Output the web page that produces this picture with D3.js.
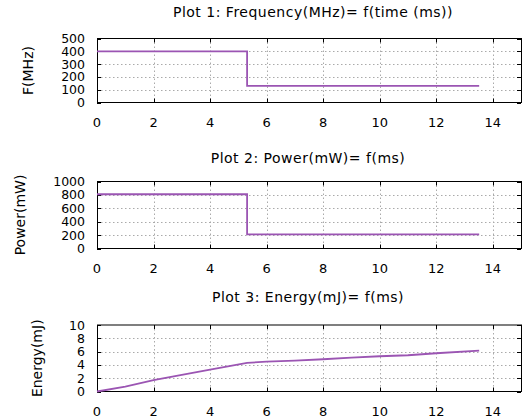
<!DOCTYPE html>
<html>
<head>
<meta charset="utf-8">
<script src="https://cdn.jsdelivr.net/npm/d3@7"></script>
<style>
  body { margin: 0; background: #fff; }
  svg text { font-family: "DejaVu Sans", sans-serif; font-size: 13px; fill: #000; }
  svg text.title { font-size: 14px; letter-spacing: 0.5px; }
  svg text.ylab { font-size: 14px; }
  svg text.ytick { font-size: 12.5px; }
  .grid line { stroke: #aaa; stroke-dasharray: 1.5,2.5; }
</style>
</head>
<body>
<div id="chart"></div>
<script>
// time axis (ms)
const xTicks = [0, 2, 4, 6, 8, 10, 12, 14];

// Plot 1: frequency step
const freqT = [0, 5.31, 5.31, 13.52];
const freqV = [400, 400, 130, 130];

// Plot 2: power step
const powT = [0, 5.31, 5.31, 13.52];
const powV = [810, 810, 210, 210];

// Plot 3: cumulative energy
const enT = [0, 1, 2, 3, 4, 5.31, 6, 7, 8, 9, 10, 11, 12, 13.52];
const enV = [0, 0.75, 1.7, 2.5, 3.3, 4.3, 4.5, 4.65, 4.85, 5.1, 5.3, 5.45, 5.75, 6.15];

const svg = d3.select("#chart").append("svg")
    .attr("width", 531).attr("height", 418);

const left = 97, right = 521;
const x = d3.scaleLinear().domain([0, 15]).range([left, right]);

const plots = [
    { title: "Plot 1: Frequency(MHz)= f(time (ms))", ylabel: "F(MHz)", top: 38.5, bottom: 102.5,
      ymax: 500, yTicks: [0, 100, 200, 300, 400, 500], t: freqT, v: freqV,
      titleX: 313, titleY: 17, labelX: 28 },
    { title: "Plot 2: Power(mW)= f(ms)", ylabel: "Power(mW)", top: 181.5, bottom: 248.5,
      ymax: 1000, yTicks: [0, 200, 400, 600, 800, 1000], t: powT, v: powV,
      titleX: 308, titleY: 163, labelX: 20 },
    { title: "Plot 3: Energy(mJ)= f(ms)", ylabel: "Energy(mJ)", top: 325, bottom: 391.5,
      ymax: 10, yTicks: [0, 2, 4, 6, 8, 10], t: enT, v: enV,
      titleX: 308, titleY: 302, labelX: 37 }
];

plots.forEach(function(p) {
    const y = d3.scaleLinear().domain([0, p.ymax]).range([p.bottom, p.top]);
    const g = svg.append("g");

    // grid
    const grid = g.append("g").attr("class", "grid");
    grid.selectAll(".gx").data(xTicks.slice(1)).enter().append("line")
        .attr("x1", d => Math.round(x(d)) + 0.5).attr("x2", d => Math.round(x(d)) + 0.5)
        .attr("y1", p.top).attr("y2", p.bottom);
    grid.selectAll(".gy").data(p.yTicks.slice(1, -1)).enter().append("line")
        .attr("x1", left).attr("x2", right)
        .attr("y1", d => Math.round(y(d)) + 0.5).attr("y2", d => Math.round(y(d)) + 0.5);

    // inward ticks, mirrored
    const ticks = g.append("g").attr("stroke", "#000").attr("stroke-width", 1);
    xTicks.forEach(function(d) {
        const px = Math.round(x(d)) + 0.5;
        ticks.append("line").attr("x1", px).attr("x2", px).attr("y1", p.bottom).attr("y2", p.bottom - 4);
        ticks.append("line").attr("x1", px).attr("x2", px).attr("y1", p.top).attr("y2", p.top + 4);
    });
    p.yTicks.forEach(function(d) {
        const py = Math.round(y(d)) + 0.5;
        ticks.append("line").attr("x1", left).attr("x2", left + 4).attr("y1", py).attr("y2", py);
        ticks.append("line").attr("x1", right).attr("x2", right - 4).attr("y1", py).attr("y2", py);
    });

    // frame
    g.append("rect").attr("x", left + 0.5).attr("y", p.top).attr("width", right - left)
        .attr("height", p.bottom - p.top).attr("fill", "none").attr("stroke", "#000");

    // tick labels
    g.selectAll(".xl").data(xTicks).enter().append("text")
        .attr("x", d => x(d)).attr("y", p.bottom + 24)
        .attr("text-anchor", "middle").text(d => d);
    g.selectAll(".yl").data(p.yTicks).enter().append("text")
        .attr("class", "ytick")
        .attr("x", 85).attr("y", d => y(d)).attr("dy", "0.36em")
        .attr("text-anchor", "end").text(d => d);

    // titles
    g.append("text").attr("class", "title").attr("x", p.titleX).attr("y", p.titleY)
        .attr("text-anchor", "middle").text(p.title);
    g.append("text").attr("class", "ylab")
        .attr("transform", "translate(" + p.labelX + "," + ((p.top + p.bottom) / 2) + ") rotate(-90)")
        .attr("text-anchor", "middle").attr("dy", "0.36em").text(p.ylabel);

    // data line
    const pts = p.t.map((t, i) => [t, p.v[i]]);
    g.append("path").datum(pts)
        .attr("fill", "none").attr("stroke", "#9b55b3").attr("stroke-width", 1.8)
        .attr("d", d3.line().x(d => x(d[0])).y(d => y(d[1])));
});
</script>
</body>
</html>
